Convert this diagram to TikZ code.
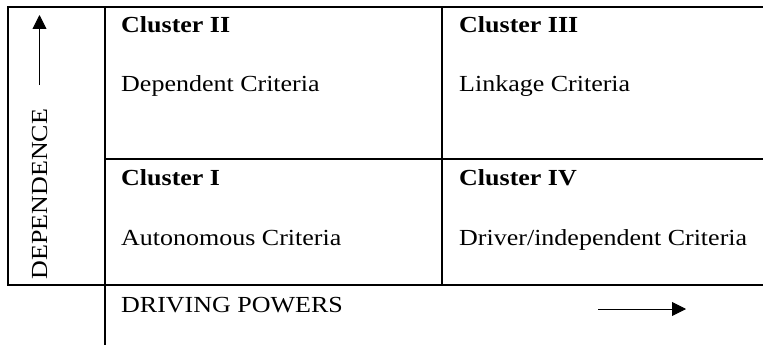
\documentclass[tikz,border=0pt]{standalone}
\usepackage{fontspec}
\setmainfont{Liberation Serif}[FakeStretch=1.13]
\usetikzlibrary{arrows.meta}
\begin{document}
\begin{tikzpicture}[x=1pt,y=-1pt,
  grid/.style={line width=1.8pt},
  axisarrow/.style={line width=0.9pt,-{Triangle[length=14pt,width=14pt]}},
  lbl/.style={anchor=base west,inner sep=0pt,font=\fontsize{23}{27}\selectfont},
  head/.style={lbl,font=\fontsize{23}{27}\selectfont\bfseries}]
\useasboundingbox (0,0) rectangle (763,345);
% frame corners
\coordinate (tl) at (8,7);
\coordinate (tr) at (763,7);
\coordinate (bl) at (8,285);
\coordinate (br) at (763,285);
\coordinate (vt) at (105,7);
\coordinate (vb) at (105,345);
\coordinate (mt) at (442,7);
\coordinate (mb) at (442,285);
\coordinate (hl) at (105,159);
\coordinate (hr) at (763,159);
% quadrant grid
\draw[grid] (tr) -- (tl) -- (bl) -- (br);
\draw[grid] (vt) -- (vb);
\draw[grid] (mt) -- (mb);
\draw[grid] (hl) -- (hr);
% cluster labels
\node[head] (c2) at (121,33) {Cluster II};
\node[lbl]  (d2) at (121,92) {Dependent Criteria};
\node[head] (c3) at (459,33) {Cluster III};
\node[lbl]  (d3) at (459,92) {Linkage Criteria};
\node[head] (c1) at (121,185) {Cluster I};
\node[lbl]  (d1) at (121,245) {Autonomous Criteria};
\node[head] (c4) at (459,185) {Cluster IV};
\node[lbl]  (d4) at (459,245) {Driver/independent Criteria};
% axes
\node[lbl] (xl) at (121,312) {DRIVING POWERS};
\node[lbl,rotate=90,anchor=base] (yl) at (47,194) {DEPENDENCE};
\coordinate (ya) at (39.5,85);
\coordinate (yb) at (39.5,15);
\draw[axisarrow] (ya) -- (yb);
\coordinate (xa) at (598,309);
\coordinate (xb) at (686,309);
\draw[axisarrow] (xa) -- (xb);
\end{tikzpicture}
\end{document}
